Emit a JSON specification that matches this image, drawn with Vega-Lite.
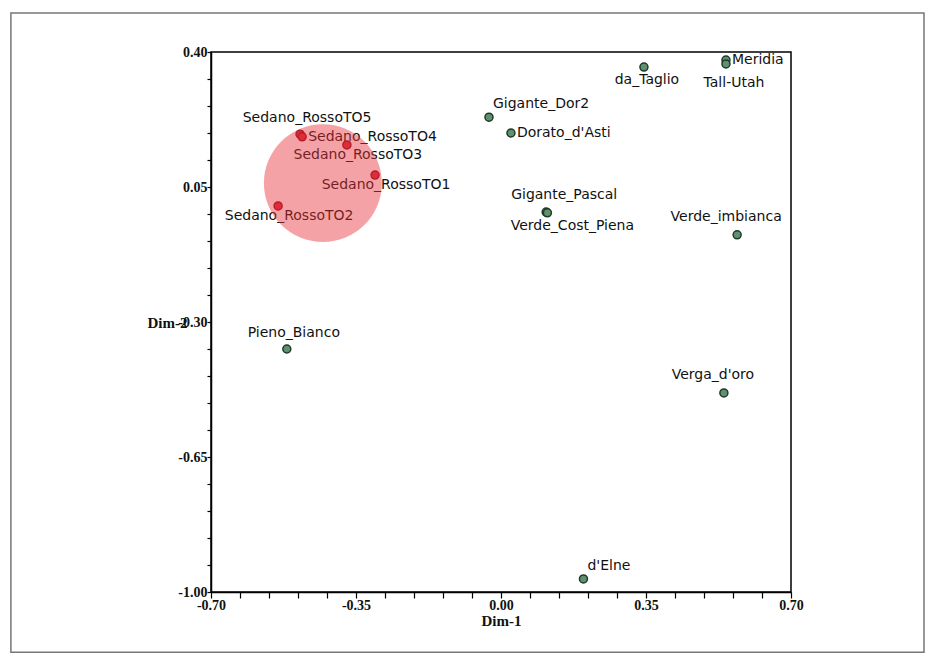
{
  "$schema": "https://vega.github.io/schema/vega-lite/v6.json",
  "width": 580,
  "height": 540,
  "autosize": {"type": "none"},
  "padding": {"left": 211, "top": 52, "right": 145, "bottom": 66},
  "background": "white",
  "config": {
    "view": {"stroke": "black", "strokeWidth": 1.5},
    "axis": {
      "grid": false,
      "domainColor": "black",
      "domainWidth": 1.5,
      "tickColor": "black",
      "tickWidth": 1.2,
      "labelFont": "Liberation Serif",
      "labelFontWeight": "bold",
      "labelFontSize": 14,
      "labelColor": "#111",
      "titleFont": "Liberation Serif",
      "titleFontWeight": "bold",
      "titleFontSize": 15,
      "titleColor": "#111",
      "labelFlush": false,
      "labelOverlap": false
    }
  },
  "datasets": {
    "pts": [
      {"name": "Sedano_RossoTO5", "group": "Sedano", "dim1": -0.485, "dim2": 0.187},
      {"name": "Sedano_RossoTO4", "group": "Sedano", "dim1": -0.480, "dim2": 0.180},
      {"name": "Sedano_RossoTO3", "group": "Sedano", "dim1": -0.372, "dim2": 0.159},
      {"name": "Sedano_RossoTO1", "group": "Sedano", "dim1": -0.304, "dim2": 0.081},
      {"name": "Sedano_RossoTO2", "group": "Sedano", "dim1": -0.538, "dim2": 0.001},
      {"name": "Gigante_Dor2", "group": "Altri", "dim1": -0.029, "dim2": 0.231},
      {"name": "Dorato_d'Asti", "group": "Altri", "dim1": 0.024, "dim2": 0.190},
      {"name": "da_Taglio", "group": "Altri", "dim1": 0.345, "dim2": 0.361},
      {"name": "Meridia", "group": "Altri", "dim1": 0.543, "dim2": 0.379},
      {"name": "Tall-Utah", "group": "Altri", "dim1": 0.543, "dim2": 0.369},
      {"name": "Gigante_Pascal", "group": "Altri", "dim1": 0.109, "dim2": -0.015},
      {"name": "Verde_Cost_Piena", "group": "Altri", "dim1": 0.112, "dim2": -0.017},
      {"name": "Verde_imbianca", "group": "Altri", "dim1": 0.570, "dim2": -0.074},
      {"name": "Pieno_Bianco", "group": "Altri", "dim1": -0.517, "dim2": -0.370},
      {"name": "Verga_d'oro", "group": "Altri", "dim1": 0.538, "dim2": -0.484},
      {"name": "d'Elne", "group": "Altri", "dim1": 0.199, "dim2": -0.966}
    ],
    "cluster": [
      {"name": "Sedano", "dim1": -0.430, "dim2": 0.060}
    ],
    "frame": [
      {"x1": -1.183, "x2": 1.021, "y1": 0.501, "y2": -1.156}
    ]
  },
  "data": {"name": "pts"},
  "encoding": {
    "x": {
      "field": "dim1", "type": "quantitative",
      "scale": {"domain": [-0.7, 0.7], "nice": false, "zero": false},
      "axis": {
        "title": "Dim-1",
        "values": [-0.7, -0.63, -0.56, -0.49, -0.42, -0.35, -0.28, -0.21, -0.14, -0.07, 0, 0.07, 0.14, 0.21, 0.28, 0.35, 0.42, 0.49, 0.56, 0.63, 0.7],
        "labelExpr": "round(datum.value*100) % 35 == 0 ? replace(format(datum.value, '.2f'), '\u2212', '-') : ''",
        "tickSize": 6,
        "labelPadding": 0,
        "titlePadding": 1
      }
    },
    "y": {
      "field": "dim2", "type": "quantitative",
      "scale": {"domain": [-1.0, 0.4], "nice": false, "zero": false},
      "axis": {
        "title": "Dim-2",
        "values": [-1.0, -0.93, -0.86, -0.79, -0.72, -0.65, -0.58, -0.51, -0.44, -0.37, -0.3, -0.23, -0.16, -0.09, -0.02, 0.05, 0.12, 0.19, 0.26, 0.33, 0.4],
        "labelExpr": "(round(datum.value*100) + 100) % 35 == 0 ? replace(format(datum.value, '.2f'), '\u2212', '-') : ''",
        "tickSize": 4,
        "labelPadding": 0,
        "titleAngle": 0,
        "titleAlign": "right",
        "titleBaseline": "middle",
        "titleX": -24,
        "titleY": 270
      }
    }
  },
  "layer": [
    {
      "data": {"name": "frame"},
      "mark": {"type": "rect", "filled": false, "stroke": "#777", "strokeWidth": 1.5, "clip": false},
      "encoding": {
        "x": {"field": "x1", "type": "quantitative"},
        "x2": {"field": "x2"},
        "y": {"field": "y1", "type": "quantitative"},
        "y2": {"field": "y2"}
      }
    },
    {
      "mark": {"type": "point", "filled": true, "size": 64, "strokeWidth": 1.5, "opacity": 1},
      "encoding": {
        "fill": {"field": "group", "type": "nominal", "scale": {"domain": ["Sedano", "Altri"], "range": ["#d8283a", "#5f9070"]}, "legend": null},
        "stroke": {"field": "group", "type": "nominal", "scale": {"domain": ["Sedano", "Altri"], "range": ["#8a1018", "#1e3b28"]}, "legend": null}
      }
    },
    {
      "transform": [{"filter": {"field": "name", "oneOf": ["Sedano_RossoTO4", "Dorato_d'Asti", "Meridia"]}}],
      "mark": {"type": "text", "align": "left", "baseline": "middle", "dx": 6, "dy": 0, "font": "DejaVu Sans", "fontSize": 14, "color": "#111"},
      "encoding": {"text": {"field": "name"}}
    },
    {
      "transform": [{"filter": {"field": "name", "oneOf": ["Sedano_RossoTO3", "Sedano_RossoTO1", "Sedano_RossoTO2"]}}],
      "mark": {"type": "text", "align": "center", "baseline": "middle", "dx": 11, "dy": 10, "font": "DejaVu Sans", "fontSize": 14, "color": "#111"},
      "encoding": {"text": {"field": "name"}}
    },
    {
      "transform": [{"filter": {"field": "name", "oneOf": ["Sedano_RossoTO5", "Pieno_Bianco"]}}],
      "mark": {"type": "text", "align": "center", "baseline": "middle", "dx": 7, "dy": -16, "font": "DejaVu Sans", "fontSize": 14, "color": "#111"},
      "encoding": {"text": {"field": "name"}}
    },
    {
      "transform": [{"filter": {"field": "name", "oneOf": ["Gigante_Dor2", "d'Elne"]}}],
      "mark": {"type": "text", "align": "left", "baseline": "middle", "dx": 4, "dy": -13, "font": "DejaVu Sans", "fontSize": 14, "color": "#111"},
      "encoding": {"text": {"field": "name"}}
    },
    {
      "transform": [{"filter": {"field": "name", "oneOf": ["da_Taglio"]}}],
      "mark": {"type": "text", "align": "center", "baseline": "middle", "dx": 3, "dy": 13, "font": "DejaVu Sans", "fontSize": 14, "color": "#111"},
      "encoding": {"text": {"field": "name"}}
    },
    {
      "transform": [{"filter": {"field": "name", "oneOf": ["Tall-Utah"]}}],
      "mark": {"type": "text", "align": "center", "baseline": "middle", "dx": 8, "dy": 19, "font": "DejaVu Sans", "fontSize": 14, "color": "#111"},
      "encoding": {"text": {"field": "name"}}
    },
    {
      "transform": [{"filter": {"field": "name", "oneOf": ["Gigante_Pascal"]}}],
      "mark": {"type": "text", "align": "center", "baseline": "middle", "dx": 18, "dy": -17, "font": "DejaVu Sans", "fontSize": 14, "color": "#111"},
      "encoding": {"text": {"field": "name"}}
    },
    {
      "transform": [{"filter": {"field": "name", "oneOf": ["Verde_Cost_Piena"]}}],
      "mark": {"type": "text", "align": "center", "baseline": "middle", "dx": 25, "dy": 13, "font": "DejaVu Sans", "fontSize": 14, "color": "#111"},
      "encoding": {"text": {"field": "name"}}
    },
    {
      "transform": [{"filter": {"field": "name", "oneOf": ["Verde_imbianca", "Verga_d'oro"]}}],
      "mark": {"type": "text", "align": "center", "baseline": "middle", "dx": -11, "dy": -18, "font": "DejaVu Sans", "fontSize": 14, "color": "#111"},
      "encoding": {"text": {"field": "name"}}
    },
    {
      "data": {"name": "cluster"},
      "mark": {"type": "circle", "size": 13900, "color": "#e8303a", "opacity": 0.45},
      "encoding": {}
    }
  ]
}
